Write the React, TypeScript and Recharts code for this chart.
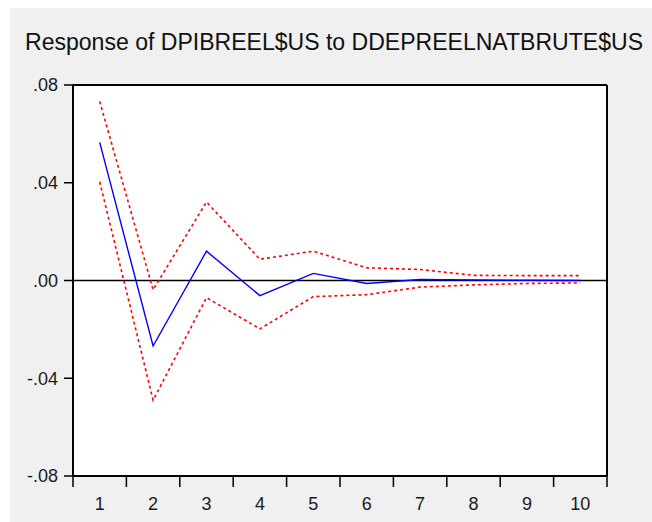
import { CartesianGrid, Line, LineChart, ReferenceLine, XAxis, YAxis } from 'recharts'

const steps = [1, 2, 3, 4, 5, 6, 7, 8, 9, 10]
const response = [0.0565, -0.0268, 0.012, -0.0062, 0.0029, -0.0012, 0.0004, 0.0002, 0.0001, 0.0]
const upperBand = [0.0733, -0.0038, 0.0321, 0.0087, 0.012, 0.0052, 0.0045, 0.0021, 0.002, 0.002]
const lowerBand = [0.0404, -0.049, -0.007, -0.0198, -0.0066, -0.0058, -0.0027, -0.0018, -0.0012, -0.001]
const yTicks = [-0.08, -0.04, 0, 0.04, 0.08]

const title = 'Response of DPIBREEL$US to DDEPREELNATBRUTE$US'
const font = '"Liberation Sans", Arial, sans-serif'

const data = steps.map((s, i) => ({ step: s, resp: response[i], upper: upperBand[i], lower: lowerBand[i] }))
// integer ticks carry the labels, the half steps carry the tick marks
const xTicks = [steps[0] - 0.5, ...steps.flatMap((s) => [s, s + 0.5])]

const fmtY = (v: number) => (v < 0 ? '-' : '') + Math.abs(v).toFixed(2).replace(/^0/, '')

function StepTick(props: any) {
  const { x, y, payload } = props
  const v = payload.value as number
  if (Number.isInteger(v)) {
    return (
      <text x={x} y={y + 34} textAnchor="middle" fontSize={18} fontFamily={font} fill="#1a1a1a">
        {v}
      </text>
    )
  }
  return <line x1={x} x2={x} y1={y} y2={y + 11} stroke="#000" strokeWidth={1.5} />
}

export default function App() {
  return (
    <div style={{ position: 'absolute', left: 0, top: 0, width: 652, height: 522, background: '#fff', overflow: 'hidden' }}>
      <div style={{ position: 'absolute', left: 10, top: 8, width: 642, height: 514, background: '#f0f0f0' }} />
      <div style={{ position: 'absolute', left: 0, top: 0 }}>
        <LineChart width={652} height={522} data={data} margin={{ top: 85, right: 45, bottom: 6, left: 9 }}>
          <CartesianGrid horizontal={false} vertical={false} fill="#ffffff" />
          <XAxis
            dataKey="step"
            type="number"
            domain={[0.5, 10.5]}
            ticks={xTicks}
            interval={0}
            height={40}
            tickSize={0}
            tickMargin={0}
            tickLine={false}
            tick={<StepTick />}
            axisLine={{ stroke: '#000', strokeWidth: 2 }}
          />
          <YAxis
            type="number"
            domain={[-0.08, 0.08]}
            ticks={yTicks}
            interval={0}
            width={64}
            tickFormatter={fmtY}
            tickSize={9}
            tickMargin={6}
            tick={{ fontSize: 18, fontFamily: font, fill: '#1a1a1a' }}
            tickLine={{ stroke: '#000', strokeWidth: 1.5 }}
            axisLine={{ stroke: '#000', strokeWidth: 2 }}
          />
          <ReferenceLine y={0.08} stroke="#000" strokeWidth={2} />
          <ReferenceLine x={10.5} stroke="#000" strokeWidth={2} />
          <ReferenceLine y={0} stroke="#000" strokeWidth={1.5} />
          <Line dataKey="upper" stroke="#ff0000" strokeWidth={1.6} strokeDasharray="3 3" dot={false} isAnimationActive={false} />
          <Line dataKey="lower" stroke="#ff0000" strokeWidth={1.6} strokeDasharray="3 3" dot={false} isAnimationActive={false} />
          <Line dataKey="resp" stroke="#0000ff" strokeWidth={1.4} dot={false} isAnimationActive={false} />
        </LineChart>
      </div>
      <svg width={652} height={60} style={{ position: 'absolute', left: 0, top: 0 }}>
        <text x={25} y={50} fontSize={23} fontFamily={font} fill="#111" textLength={618} lengthAdjust="spacingAndGlyphs">
          {title}
        </text>
      </svg>
    </div>
  )
}
